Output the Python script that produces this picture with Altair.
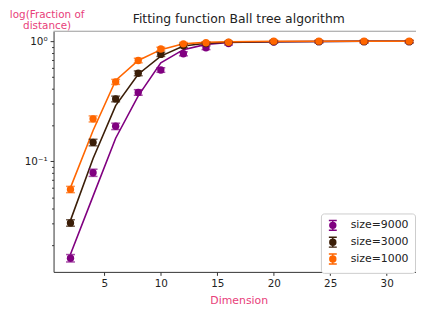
import altair as alt
import pandas as pd

dims = [2, 4, 6, 8, 10, 12, 14, 16, 20, 24, 28, 32]
series_names = ["size=9000", "size=3000", "size=1000"]
series_colors = ["#800080", "#3b1e08", "#ff6600"]

pts_9000 = [0.0155, 0.080, 0.195, 0.374, 0.575, 0.785, 0.880, 0.955, 0.985, 0.99, 0.99, 0.99]
fit_9000 = [0.0167, 0.051, 0.155, 0.350, 0.660, 0.850, 0.940, 0.975, 0.990, 0.995, 0.997, 0.998]
err_9000 = [0.0011, 0.0055, 0.012, 0.020, 0.025, 0.030, 0.030, 0.025, 0.020, 0.020, 0.020, 0.020]

pts_3000 = [0.0305, 0.143, 0.330, 0.540, 0.776, 0.915, 0.955, 0.975, 0.990, 0.99, 0.99, 0.99]
fit_3000 = [0.032, 0.105, 0.290, 0.530, 0.750, 0.910, 0.960, 0.980, 0.990, 0.995, 0.997, 0.998]
err_3000 = [0.0019, 0.009, 0.018, 0.025, 0.030, 0.030, 0.025, 0.020, 0.020, 0.020, 0.020, 0.020]

pts_1000 = [0.058, 0.225, 0.458, 0.690, 0.860, 0.950, 0.970, 0.980, 1.0, 1.0, 1.0, 1.0]
fit_1000 = [0.060, 0.180, 0.470, 0.690, 0.850, 0.950, 0.980, 0.990, 0.997, 0.999, 1.0, 1.0]
err_1000 = [0.0035, 0.013, 0.022, 0.030, 0.030, 0.025, 0.020, 0.020, 0.020, 0.020, 0.020, 0.020]

rows = []
for name, pts, fit, err in zip(series_names,
                               [pts_9000, pts_3000, pts_1000],
                               [fit_9000, fit_3000, fit_1000],
                               [err_9000, err_3000, err_1000]):
    for d, p, f, e in zip(dims, pts, fit, err):
        rows.append({"series": name, "dim": d, "val": p, "fit": f,
                     "lo": p - e, "hi": p + e})
df = pd.DataFrame(rows)

minor_vals = [0.02, 0.03, 0.04, 0.05, 0.06, 0.07, 0.08, 0.09, 0.1,
              0.2, 0.3, 0.4, 0.5, 0.6, 0.7, 0.8, 0.9, 1.0]

# legend symbol: error bar with caps + filled circle (concentric rings)
sym = ("M-0.8,-1H0.8M-0.8,1H0.8M0,-1V1"
       "M0.6,0A0.6,0.6,0,1,1,-0.6,0A0.6,0.6,0,1,1,0.6,0Z"
       "M0.42,0A0.42,0.42,0,1,1,-0.42,0A0.42,0.42,0,1,1,0.42,0Z"
       "M0.25,0A0.25,0.25,0,1,1,-0.25,0A0.25,0.25,0,1,1,0.25,0Z"
       "M0.1,0A0.1,0.1,0,1,1,-0.1,0A0.1,0.1,0,1,1,0.1,0Z")

color = alt.Color("series:N",
                  scale=alt.Scale(domain=series_names, range=series_colors),
                  sort=series_names,
                  legend=alt.Legend(title=None, orient="none", legendX=270, legendY=184,
                                    symbolType=sym, symbolSize=100, symbolStrokeWidth=1.5,
                                    symbolOpacity=1,
                                    labelFontSize=11, labelColor="#222", labelFont="DejaVu Sans",
                                    rowPadding=1, padding=6, strokeColor="#cccccc",
                                    fillColor="white", cornerRadius=3, labelOffset=12))

xscale = alt.Scale(domain=[0.5, 32.6], nice=False, zero=False)
yscale = alt.Scale(type="log", domain=[0.0119, 1.21], nice=False)

xaxis = alt.Axis(title="Dimension", values=[5, 10, 15, 20, 25, 30], grid=False,
                 labelFontSize=10.5, labelColor="#222", tickColor="#333", domainColor="#333",
                 tickSize=3.5, labelPadding=3, titleColor="#e8407a", titleFontSize=11,
                 titleFontWeight="normal", titleX=187, titleY=29, titleBaseline="middle",
                 titleAlign="center", labelFont="DejaVu Sans", titleFont="DejaVu Sans")
yaxis = alt.Axis(title=["log(Fraction of", "distance)"], values=minor_vals, grid=False,
                 labelExpr="datum.value == 1 ? '10⁰' : (abs(datum.value - 0.1) < 1e-9 ? '10⁻¹' : '')",
                 tickSize={"condition": {"test": "datum.value == 1 || abs(datum.value - 0.1) < 1e-9",
                                         "value": 3.5}, "value": 2},
                 labelFontSize=10.5, labelColor="#222", tickColor="#333", domainColor="#333",
                 labelPadding=3, titleColor="#e8407a", titleFontSize=10.5, titleFontWeight="normal",
                 titleAngle=0, titleX=-7, titleY=-22, titleBaseline="top", titleAlign="center",
                 titleLineHeight=11.5, labelFont="DejaVu Sans", titleFont="DejaVu Sans")

base = alt.Chart(df)

lines = base.mark_line(strokeWidth=1.6).encode(
    x=alt.X("dim:Q", scale=xscale, axis=xaxis),
    y=alt.Y("fit:Q", scale=yscale, axis=yaxis),
    color=color,
)
bars = base.mark_rule(strokeWidth=1.5).encode(
    x="dim:Q", y="lo:Q", y2="hi:Q", color=color)
cap_lo = base.mark_tick(orient="horizontal", size=9, thickness=1.5).encode(
    x="dim:Q", y="lo:Q", color=color)
cap_hi = base.mark_tick(orient="horizontal", size=9, thickness=1.5).encode(
    x="dim:Q", y="hi:Q", color=color)
points = base.mark_point(filled=True, size=55, opacity=1, shape="circle").encode(
    x="dim:Q", y="val:Q", color=color)

top_line = alt.Chart(pd.DataFrame({"t": [1.21]})).mark_rule(color="#999", strokeWidth=1).encode(
    y=alt.Y("t:Q", scale=yscale), x=alt.value(0), x2=alt.value(366))

chart = alt.layer(lines, bars, cap_lo, cap_hi, points, top_line).properties(
    width=366, height=243,
    autosize=alt.AutoSizeParams(type="none"),
    padding={"left": 46, "top": 22, "right": 0, "bottom": 36},
    title=alt.TitleParams("Fitting function Ball tree algorithm", fontSize=12.5,
                          fontWeight="normal", font="DejaVu Sans", color="#222",
                          anchor="middle", dx=4, dy=16, offset=0),
).configure_view(stroke=None)

chart.save("out.html", embed_options={"renderer": "svg", "actions": False})
